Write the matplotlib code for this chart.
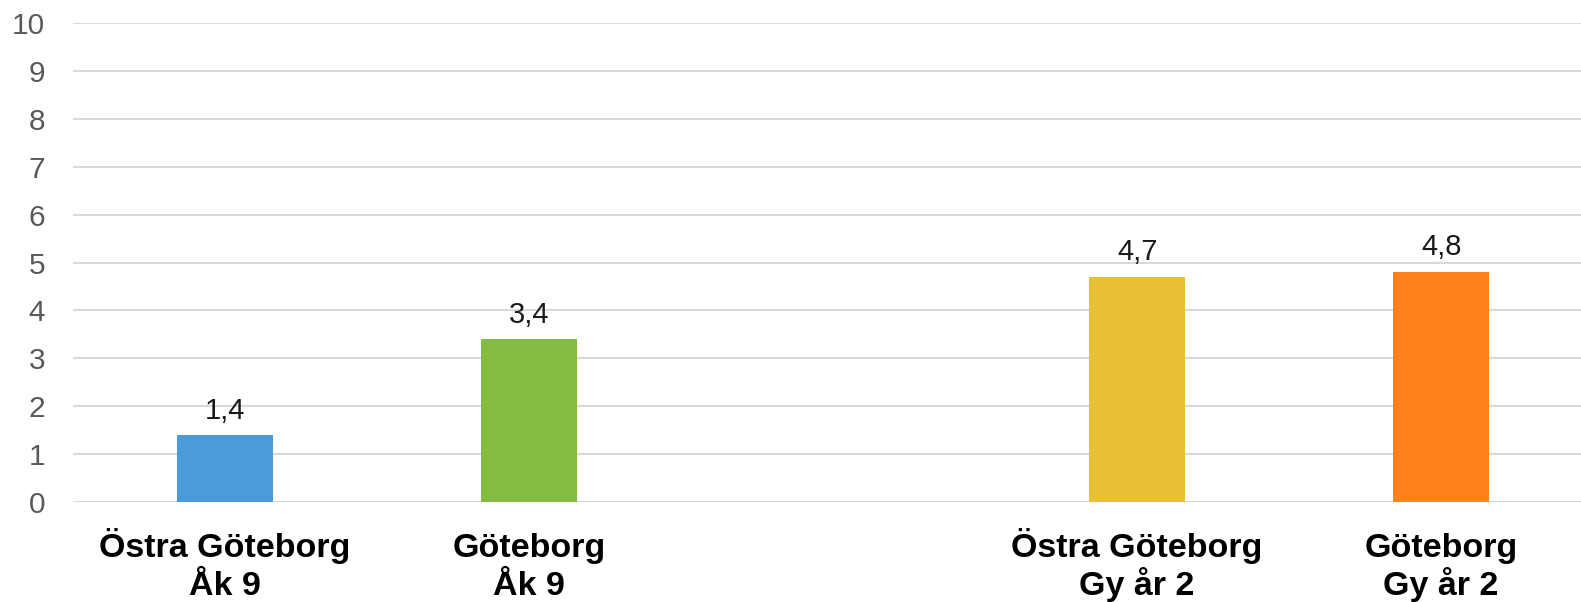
import matplotlib
matplotlib.use("Agg")
import matplotlib.pyplot as plt

plt.rcParams["font.family"] = ["Liberation Sans", "DejaVu Sans"]

# data
positions = [0, 1, 3, 4]
values = [1.4, 3.4, 4.7, 4.8]
labels_top = ["Östra Göteborg", "Göteborg", "Östra Göteborg", "Göteborg"]
labels_bottom = ["Åk 9", "Åk 9", "Gy år 2", "Gy år 2"]
value_texts = ["1,4", "3,4", "4,7", "4,8"]
colors = ["#4A9BDC", "#82BC41", "#E9BF36", "#FF821E"]
yticks = list(range(0, 11))

fig = plt.figure(figsize=(15.81, 6.02), dpi=100)
ax = fig.add_axes([0.0462, 0.1653, 0.9538, 0.7973])

bars = ax.bar(positions, values, width=0.316, color=colors, zorder=3)

for b, t in zip(bars, value_texts):
    ax.annotate(t, (b.get_x() + b.get_width() / 2, b.get_height()),
                xytext=(0, 12), textcoords="offset points",
                ha="center", va="baseline", fontsize=21, color="#1a1a1a")

# kategorietiketter, två rader
for p, l1, l2 in zip(positions, labels_top, labels_bottom):
    ax.annotate(l1, (p, 0), xycoords=("data", "axes fraction"),
                xytext=(0, -39.5), textcoords="offset points",
                ha="center", va="baseline", fontsize=24.5, fontweight="bold", color="black")
    ax.annotate(l2, (p, 0), xycoords=("data", "axes fraction"),
                xytext=(0, -66.8), textcoords="offset points",
                ha="center", va="baseline", fontsize=24.5, fontweight="bold", color="black")

ax.set_xlim(-0.5, 4.46)
ax.set_ylim(0, 10)
ax.set_yticks(yticks)
ax.set_yticklabels([str(v) for v in yticks], fontsize=21.5, color="#595959")
ax.set_xticks([])
ax.tick_params(axis="y", length=0, pad=20)

ax.grid(axis="y", color="#D9D9D9", linewidth=1.5, zorder=0)
for s in ax.spines.values():
    s.set_visible(False)

fig.savefig("out.png", dpi=100)
